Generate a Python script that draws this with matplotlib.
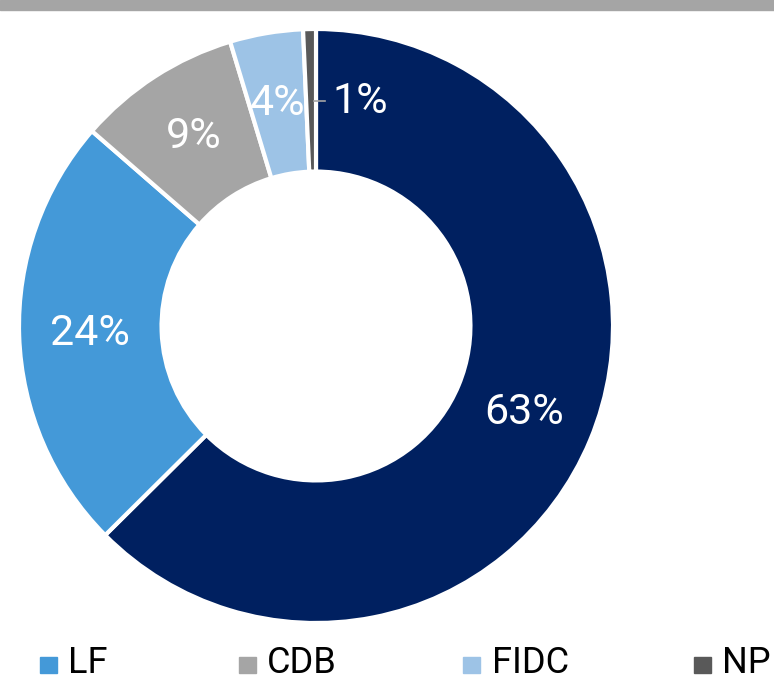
import matplotlib
matplotlib.use("Agg")
import matplotlib.pyplot as plt
import numpy as np

# data
categorias = ["", "LF", "CDB", "FIDC", "NP"]
valores = [63, 24, 9, 4, 0.7]
colores = ["#002060", "#4499d8", "#a5a5a5", "#9dc3e6", "#595959"]

fig = plt.figure(figsize=(7.74, 6.80), dpi=100)

# barra gris superior
fig.patches.append(plt.Rectangle((0, 1 - 10 / 680), 1, 10 / 680, transform=fig.transFigure,
                                 color="#a5a5a5", zorder=0))

cx, cy, r = 316, 326, 297
ax = fig.add_axes([(cx - r) / 774, (680 - cy - r) / 680, 2 * r / 774, 2 * r / 680])

wedges, _ = ax.pie(valores, colors=colores, startangle=90, counterclock=False,
                   radius=1, wedgeprops=dict(width=0.48, edgecolor="white", linewidth=3))
ax.set_xlim(-1, 1)
ax.set_ylim(-1, 1)
ax.set_aspect("equal")
ax.axis("off")

fuente_pct = ["Roboto", "DejaVu Sans"]
for w, v in zip(wedges, valores):
    ang = np.deg2rad((w.theta1 + w.theta2) / 2)
    txt = f"{round(v):.0f}%"
    if v < 2:
        # etiqueta fuera con linea guia
        x0 = 0.76 * np.cos(ang)
        ax.plot([x0 + 0.01, 0.03], [0.757, 0.757], color="#a5a5a5", lw=1.2)
        ax.text(0.055, 0.757, txt, color="white", fontsize=31, family=fuente_pct,
                ha="left", va="center")
        continue
    ax.text(0.76 * np.cos(ang), 0.76 * np.sin(ang), txt, color="white",
            fontsize=31, family=fuente_pct, ha="center", va="center")

# leyenda (la primera entrada queda fuera del lienzo)
xs_marca = [48, 247, 472, 702]
for x, nombre, col in zip(xs_marca, categorias[1:], colores[1:]):
    fig.patches.append(plt.Rectangle(((x - 8.5) / 774, (680 - 673) / 680), 17 / 774, 16 / 680,
                                     transform=fig.transFigure, color=col))
    fig.text((x + 20) / 774, (680 - 663) / 680, nombre, fontsize=26,
             family=["Roboto", "DejaVu Sans"],
             ha="left", va="center", color="black")

fig.savefig("out.png", dpi=100)
